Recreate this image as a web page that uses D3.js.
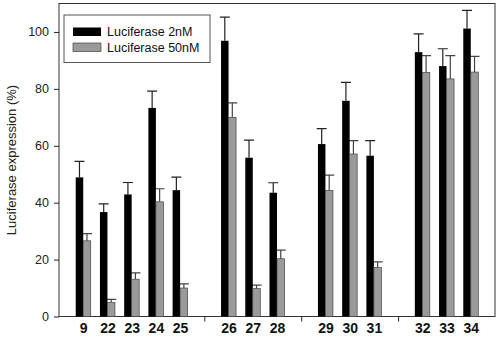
<!DOCTYPE html>
<meta charset="utf-8">
<style>
body { margin: 0; background: #fff; }
text { font-family: 'Liberation Sans', Arial, sans-serif; }
.axis path, .axis line { stroke: #222; }
.axis--y text { font-size: 12.5px; fill: #222; }
.axis--x text { font-size: 14px; font-weight: bold; fill: #111; }
.low { fill: #000; }
.high { fill: #9a9a9a; stroke: #444; stroke-width: 0.7; }
.axisLabel { font-size: 13px; fill: #222; }
.legendText { font-size: 12.5px; fill: #111; }
</style>
<svg width="499" height="339"></svg>
<script src="https://d3js.org/d3.v7.min.js"></script>
<script>

// compound numbers, and empty slots between the groups
var slots = ["9", "22", "23", "24", "25", "gap1", "26", "27", "28", "gap2", "29", "30", "31", "gap3", "32", "33", "34"];
var categories = ["9", "22", "23", "24", "25", "26", "27", "28", "29", "30", "31", "32", "33", "34"];
var gaps = ["gap1", "gap2", "gap3"];

var low = [48.9, 36.7, 42.9, 73.3, 44.4, 96.9, 55.8, 43.5, 60.6, 75.8, 56.5, 92.9, 88.0, 101.2];
var lowErr = [5.6, 2.9, 4.2, 5.9, 4.6, 8.3, 6.2, 3.5, 5.4, 6.5, 5.3, 6.4, 6.1, 6.4];
var high = [26.6, 4.9, 13.1, 40.3, 10.0, 70.0, 9.8, 20.3, 44.3, 57.1, 17.2, 85.8, 83.5, 85.9];
var highErr = [2.5, 1.1, 2.2, 4.6, 1.5, 5.1, 1.2, 3.0, 5.4, 4.7, 2.0, 5.9, 8.2, 5.5];

var yTicks = [0, 20, 40, 60, 80, 100];
var seriesNames = ["Luciferase 2nM", "Luciferase 50nM"];

var svg = d3.select("svg"),
    margin = {top: 3.5, right: 4, bottom: 22.5, left: 59},
    width = +svg.attr("width") - margin.left - margin.right,
    height = +svg.attr("height") - margin.top - margin.bottom;

var x = d3.scalePoint().domain(slots).range([0, width]).padding(1);
var y = d3.scaleLinear().domain([0, 110]).range([height, 0]);

var barWidth = 7.5,
    capHalf = 5;

var g = svg.append("g")
    .attr("transform", "translate(" + margin.left + "," + margin.top + ")");

// frame
g.append("rect")
    .attr("width", width)
    .attr("height", height)
    .attr("fill", "none")
    .attr("stroke", "#333")
    .attr("stroke-width", 1);

g.append("g")
    .attr("class", "axis axis--y")
    .call(d3.axisLeft(y).tickValues(yTicks).tickSize(5).tickPadding(5))
    .call(function(a) { a.select(".domain").remove(); });

// category labels
g.append("g")
    .attr("class", "axis axis--x")
    .attr("transform", "translate(0," + height + ")")
    .call(d3.axisBottom(x).tickValues(categories).tickSize(0).tickPadding(7))
    .call(function(a) { a.select(".domain").remove(); });

// small ticks between groups
g.append("g")
    .attr("class", "axis")
    .attr("transform", "translate(0," + height + ")")
    .call(d3.axisBottom(x).tickValues(gaps).tickSize(5).tickFormat(""))
    .call(function(a) { a.select(".domain").remove(); });

var rows = categories.map(function(c, i) {
  return {cat: c, low: low[i], lowErr: lowErr[i], high: high[i], highErr: highErr[i]};
});

function errBars(sel, key, errKey, offset, color) {
  sel.selectAll(".err-" + key)
    .data(rows)
    .enter().append("path")
      .attr("fill", "none")
      .attr("stroke", color)
      .attr("stroke-width", 1.2)
      .attr("d", function(d) {
        var cx = x(d.cat) + offset;
        var top = y(d[key] + d[errKey]);
        return "M" + cx + "," + y(d[key]) + "V" + top +
               "M" + (cx - capHalf) + "," + top + "H" + (cx + capHalf);
      });
}

errBars(g, "low", "lowErr", -barWidth / 2, "#222");
errBars(g, "high", "highErr", barWidth / 2, "#444");

g.selectAll(".low")
  .data(rows)
  .enter().append("rect")
    .attr("class", "low")
    .attr("x", function(d) { return x(d.cat) - barWidth; })
    .attr("y", function(d) { return y(d.low); })
    .attr("width", barWidth)
    .attr("height", function(d) { return height - y(d.low); });

g.selectAll(".high")
  .data(rows)
  .enter().append("rect")
    .attr("class", "high")
    .attr("x", function(d) { return x(d.cat); })
    .attr("y", function(d) { return y(d.high); })
    .attr("width", barWidth)
    .attr("height", function(d) { return height - y(d.high); });

// y axis label
svg.append("text")
    .attr("class", "axisLabel")
    .attr("transform", "translate(16," + (margin.top + height / 2) + ") rotate(-90)")
    .attr("text-anchor", "middle")
    .text("Luciferase expression (%)");

// legend
var legend = svg.append("g").attr("transform", "translate(64,15)");
legend.append("rect")
    .attr("width", 146)
    .attr("height", 47.5)
    .attr("fill", "#fff")
    .attr("stroke", "#555")
    .attr("stroke-width", 1);

var legendRows = legend.selectAll(".legendRow")
  .data(seriesNames)
  .enter().append("g")
    .attr("transform", function(d, i) { return "translate(9," + (12.5 + i * 15.5) + ")"; });

legendRows.append("rect")
    .attr("class", function(d, i) { return i === 0 ? "low" : "high"; })
    .attr("width", 28)
    .attr("height", 8.5);

legendRows.append("text")
    .attr("class", "legendText")
    .attr("x", 34)
    .attr("y", 8.5)
    .text(function(d) { return d; });

</script>
